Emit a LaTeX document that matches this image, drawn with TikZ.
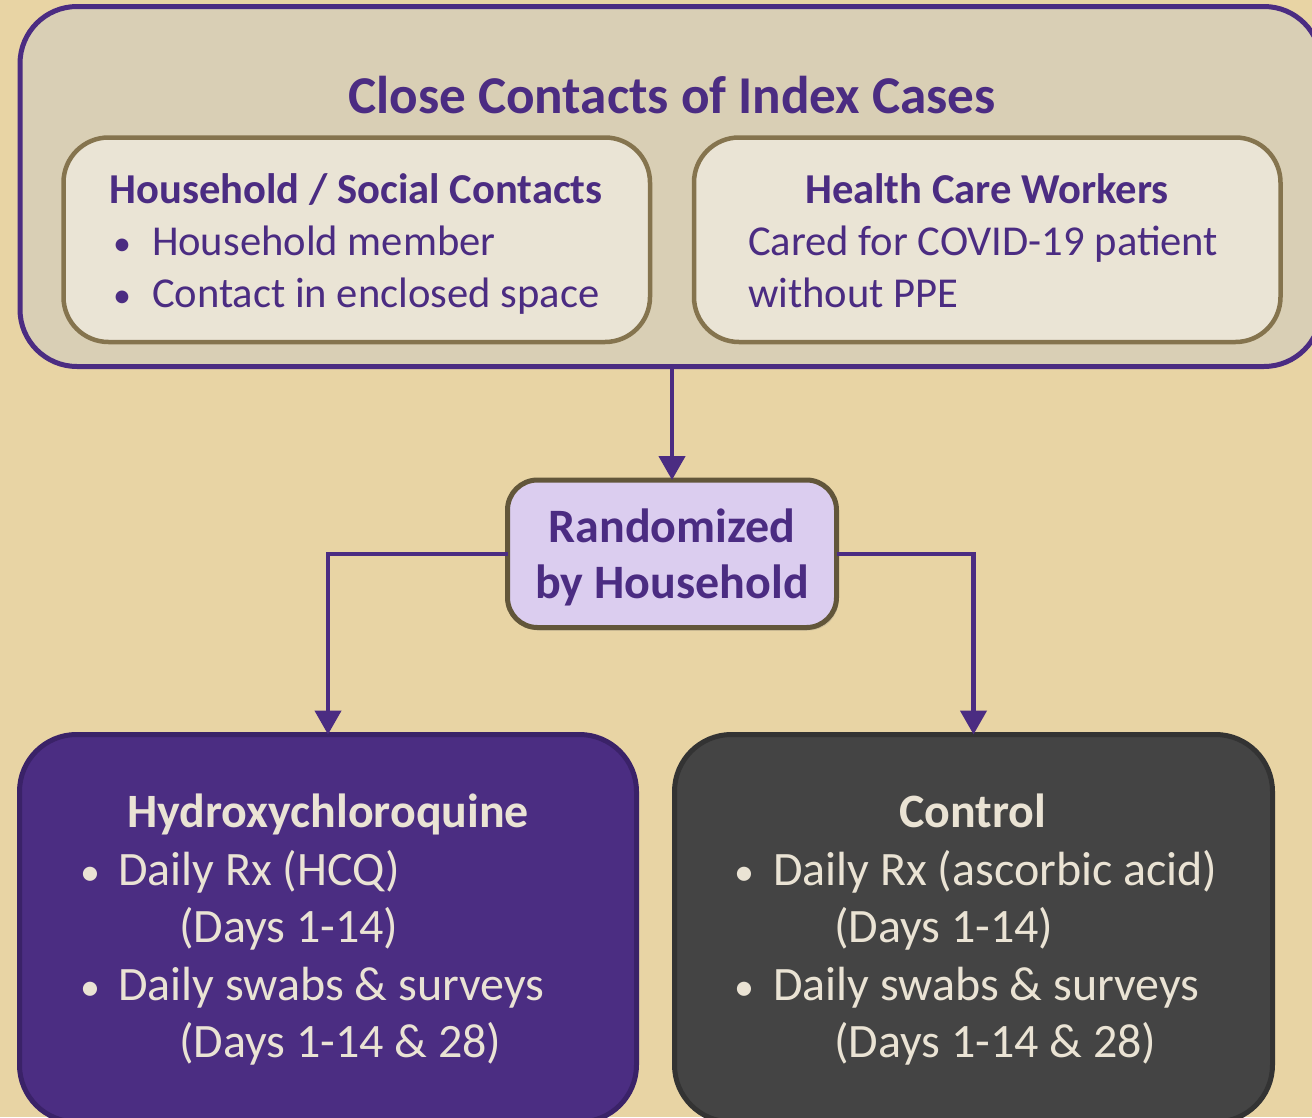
\documentclass[tikz,border=0pt]{standalone}
\usepackage{fontspec}
\setmainfont{Carlito}
\usetikzlibrary{arrows.meta,shadows}
\definecolor{bgc}{HTML}{E8D4A4}
\definecolor{contfill}{HTML}{D9CFB5}
\definecolor{purp}{HTML}{4B2C82}
\definecolor{innerfill}{HTML}{EAE4D5}
\definecolor{innerborder}{HTML}{85744E}
\definecolor{randfill}{HTML}{DBCDEF}
\definecolor{randborder}{HTML}{62563A}
\definecolor{hcqfill}{HTML}{4B2D82}
\definecolor{hcqborder}{HTML}{3A2268}
\definecolor{ctrlfill}{HTML}{444444}
\definecolor{ctrlborder}{HTML}{333333}
\definecolor{cream}{HTML}{EAE3D4}
\tikzset{
  box/.style={rectangle, inner sep=0pt, outer sep=0pt},
  contbox/.style={box, fill=contfill, draw=purp, line width=5pt, rounded corners=57pt},
  innerbox/.style={box, fill=innerfill, draw=innerborder, line width=4.5pt, rounded corners=45pt},
  randbox/.style={box, fill=randfill, draw=randborder, line width=5pt, rounded corners=30pt,
     drop shadow={opacity=0.25, shadow xshift=2pt, shadow yshift=-3pt}},
  hcqbox/.style={box, fill=hcqfill, draw=hcqborder, line width=5pt, rounded corners=57pt},
  ctrlbox/.style={box, fill=ctrlfill, draw=ctrlborder, line width=5pt, rounded corners=57pt},
  txt/.style={inner sep=0pt, outer sep=0pt},
  toptitle/.style={txt, anchor=base, text=purp, font=\fontsize{53.2}{60}\selectfont\bfseries},
  inhead/.style={txt, anchor=base, text=purp, font=\fontsize{42.6}{50}\selectfont\bfseries},
  intext/.style={txt, anchor=base west, text=purp, font=\fontsize{42.6}{50}\selectfont},
  inbul/.style={txt, anchor=base, text=purp, font=\fontsize{36}{50}\selectfont},
  randtext/.style={txt, anchor=base, text=purp, font=\fontsize{48}{54}\selectfont\bfseries},
  bothead/.style={txt, anchor=base, text=cream, font=\fontsize{47.9}{54}\selectfont\bfseries},
  bottext/.style={txt, anchor=base west, text=cream, font=\fontsize{48}{54}\selectfont},
  botbul/.style={txt, anchor=base, text=cream, font=\fontsize{40}{54}\selectfont},
  conn/.style={draw=purp, line width=4.5pt, -{Triangle[width=26pt,length=24pt]}},
}
\begin{document}
\begin{tikzpicture}[x=1pt,y=-1pt]
\path[use as bounding box, fill=bgc] (0,0) rectangle (1312,1117);
\begin{scope}
\clip (0,0) rectangle (1312,1117);
% container
\node[contbox, minimum width=1301pt, minimum height=360pt] (cont) at (670.5,186.5) {};
\node[innerbox, minimum width=586.5pt, minimum height=204.5pt] (hh) at (356.75,239.75) {};
\node[innerbox, minimum width=586.5pt, minimum height=204.5pt] (hcw) at (987.25,239.75) {};
\node[toptitle] (title) at (672,113) {Close Contacts of Index Cases};
% household box text
\node[inhead] (hhh) at (356,203) {Household / Social Contacts};
\node[inbul] (hhb1) at (122,255) {•};
\node[intext] (hht1) at (152,255) {Household member};
\node[inbul] (hhb2) at (122,307) {•};
\node[intext] (hht2) at (152,307) {Contact in enclosed space};
% hcw box text
\node[inhead] (hcwh) at (987,203) {Health Care Workers};
\node[intext] (hcwt1) at (748,255) {Cared for COVID-19 patient};
\node[intext] (hcwt2) at (748,307) {without PPE};
% randomized
\node[randbox, minimum width=329pt, minimum height=147.5pt] (rand) at (672,553.75) {};
\node[randtext] (rt1) at (672,542) {Randomized};
\node[randtext] (rt2) at (672,598) {by Household};
% bottom boxes
\node[hcqbox, minimum width=617pt, minimum height=387.5pt] (hcq) at (328,928.25) {};
\node[ctrlbox, minimum width=598pt, minimum height=387.5pt] (ctrl) at (973.5,928.25) {};
\node[bothead] (hcqh) at (328,827) {Hydroxychloroquine};
\node[botbul] (hcqb1) at (90,885) {•};
\node[bottext] (hcqt1) at (118,885) {Daily Rx (HCQ)};
\node[bottext] (hcqt2) at (179,942) {(Days 1-14)};
\node[botbul] (hcqb2) at (90,1000) {•};
\node[bottext] (hcqt3) at (118,1000) {Daily swabs \& surveys};
\node[bottext] (hcqt4) at (179,1057) {(Days 1-14 \& 28)};
\node[bothead] (ctrlh) at (972.5,827) {Control};
\node[botbul] (ctrlb1) at (744,885) {•};
\node[bottext] (ctrlt1) at (773,885) {Daily Rx (ascorbic acid)};
\node[bottext] (ctrlt2) at (834,942) {(Days 1-14)};
\node[botbul] (ctrlb2) at (744,1000) {•};
\node[bottext] (ctrlt3) at (773,1000) {Daily swabs \& surveys};
\node[bottext] (ctrlt4) at (834,1057) {(Days 1-14 \& 28)};
% connectors
\draw[conn] (rand.north |- cont.south) -- (rand.north);
\draw[conn] (rand.west) -| (hcq.north);
\draw[conn] (rand.east) -| (ctrl.north);
\end{scope}
\end{tikzpicture}
\end{document}
